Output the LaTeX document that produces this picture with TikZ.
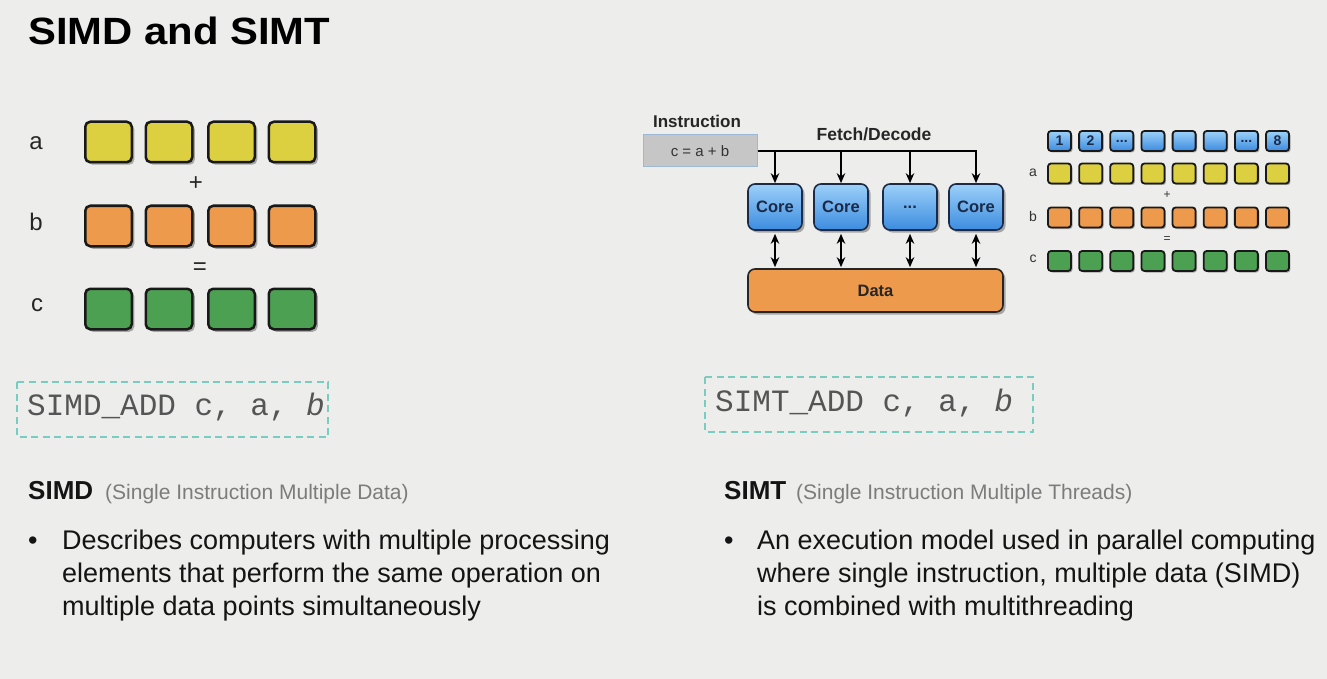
\documentclass[tikz,border=0pt]{standalone}
\usepackage{fontspec}
\setmainfont{Liberation Sans}
\newfontfamily\titlefont{Liberation Sans}[FakeStretch=1.1]
\newfontfamily\monofont{Liberation Mono}
\usetikzlibrary{arrows.meta,shadows}
\definecolor{bgc}{HTML}{EDEDEB}
\definecolor{sqyellow}{HTML}{DCD040}
\definecolor{sqorange}{HTML}{EE9A4C}
\definecolor{sqgreen}{HTML}{4CA052}
\definecolor{bluetop}{HTML}{9CD0F8}
\definecolor{bluebot}{HTML}{3C8CE0}
\definecolor{navy}{HTML}{1B2A48}
\definecolor{dashc}{HTML}{78CCC0}
\definecolor{subgray}{HTML}{7C7C7C}
\definecolor{monogray}{HTML}{555555}
\definecolor{instrfill}{HTML}{C6C6C6}
\definecolor{instrdraw}{HTML}{9CB8D4}
\tikzset{
  shad/.style={drop shadow={shadow xshift=2.5pt,shadow yshift=-2.5pt,opacity=0.3,fill=black}},
  sshad/.style={drop shadow={shadow xshift=1.5pt,shadow yshift=-1.5pt,opacity=0.3,fill=black}},
  bigsq/.style={rounded corners=5pt,line width=2.5pt,draw=black!90,minimum width=46.5pt,minimum height=40.5pt,inner sep=0pt,shad},
  smallsq/.style={rounded corners=3pt,line width=1.8pt,draw=black!90,minimum width=23pt,minimum height=20pt,inner sep=0pt,sshad},
  ysq/.style={bigsq,fill=sqyellow},
  osq/.style={bigsq,fill=sqorange},
  gsq/.style={bigsq,fill=sqgreen},
  ysm/.style={smallsq,fill=sqyellow},
  osm/.style={smallsq,fill=sqorange},
  gsm/.style={smallsq,fill=sqgreen},
  bsm/.style={smallsq,top color=bluetop,bottom color=bluebot,text=navy,font=\bfseries\fontsize{14}{14}\selectfont},
  corebox/.style={rounded corners=7pt,line width=1.6pt,draw=navy,minimum width=54pt,minimum height=46pt,inner sep=0pt,top color=bluetop,bottom color=bluebot,text=navy,font=\bfseries\fontsize{16.5}{16.5}\selectfont,shad},
  databox/.style={rounded corners=7pt,line width=1.6pt,draw=black!85,minimum width=255pt,minimum height=43pt,inner sep=0pt,fill=sqorange,text=black!85,font=\bfseries\fontsize{16.5}{16.5}\selectfont,shad},
  arr/.style={line width=2pt,-{Stealth[length=10pt,width=8.5pt]}},
  darr/.style={line width=2pt,{Stealth[length=10pt,width=8.5pt]}-{Stealth[length=10pt,width=8.5pt]}},
  dashbox/.style={draw=dashc,line width=1.6pt,dash pattern=on 7pt off 4.5pt},
  lbl/.style={inner sep=0pt,font=\fontsize{24}{24}\selectfont,text=black!85},
  slbl/.style={inner sep=0pt,font=\fontsize{14}{14}\selectfont,text=black!80},
  body/.style={inner sep=0pt,anchor=base west,font=\fontsize{27}{33}\selectfont,text=black!92},
  head/.style={inner sep=0pt,anchor=base west,font=\bfseries\fontsize{26}{26}\selectfont,text=black!92},
  subh/.style={inner sep=0pt,anchor=base west,font=\fontsize{21}{21}\selectfont,text=subgray},
  code/.style={inner sep=0pt,anchor=base west,font=\monofont\fontsize{31}{31}\selectfont,text=monogray}
}
\begin{document}
\begin{tikzpicture}[x=1pt,y=-1pt]
\fill[bgc] (0,0) rectangle (1327,679);
\useasboundingbox (0,0) rectangle (1327,679);

% title
\node[inner sep=0pt,anchor=base west,font=\titlefont\bfseries\fontsize{38}{38}\selectfont] (title) at (28,45) {SIMD and SIMT};

% ---------- SIMD squares ----------
\foreach \i/\x in {1/108.5,2/169,3/231.5,4/292}{
  \node[ysq] (la\i) at (\x,142) {};
  \node[osq] (lb\i) at (\x,226) {};
  \node[gsq] (lc\i) at (\x,309) {};
}
\node[lbl] (labela) at (36,143) {a};
\node[lbl] (labelb) at (36,222) {b};
\node[lbl] (labelc) at (37,305) {c};
\node[lbl] (lplus) at (196,184) {+};
\node[lbl] (leq) at (200,269) {=};

% SIMD code box
\draw[dashbox] (17,382) rectangle (328,437);
\node[code] (simdcode) at (27,415) {SIMD\_ADD c, a, {\itshape b}};

% ---------- SIMT diagram ----------
\node[draw=instrdraw,line width=1pt,fill=instrfill,minimum width=114pt,minimum height=32pt,inner sep=0pt,
      font=\fontsize{15}{15}\selectfont,text=black!80] (instr) at (700,151) {c = a + b};
\node[inner sep=0pt,font=\bfseries\fontsize{17}{17}\selectfont,text=black!85] (instrlbl) at (697,121) {Instruction};
\node[inner sep=0pt,font=\bfseries\fontsize{17.5}{17.5}\selectfont,text=black!85] (fetch) at (874,134) {Fetch/Decode};

\node[corebox] (core1) at (775,207) {Core};
\node[corebox] (core2) at (841,207) {Core};
\node[corebox] (core3) at (910,207) {...};
\node[corebox] (core4) at (976,207) {Core};
\node[databox] (data) at (875.5,290.5) {Data};

\draw[line width=2pt] (instr.east) -- ([xshift=1pt]instr.east -| core4.north);
\foreach \i in {1,...,4}{
  \draw[arr] (instr.east -| core\i.north) -- (core\i.north);
  \draw[darr] ([yshift=-3pt]core\i.south) -- ([yshift=1pt]core\i.south |- data.north);
}

% ---------- small grid ----------
\node[bsm] (t1) at (1059.5,141) {1};
\node[bsm] (t2) at (1090.6,141) {2};
\node[bsm] (t3) at (1121.8,141) {...};
\node[bsm] (t4) at (1152.9,141) {};
\node[bsm] (t5) at (1184.1,141) {};
\node[bsm] (t6) at (1215.2,141) {};
\node[bsm] (t7) at (1246.4,141) {...};
\node[bsm] (t8) at (1277.5,141) {8};
\foreach \i in {1,...,8}{
  \pgfmathsetmacro\xx{1059.5+31.14*(\i-1)}
  \node[ysm] (ra\i) at (\xx,173.5) {};
  \node[osm] (rb\i) at (\xx,217.5) {};
  \node[gsm] (rc\i) at (\xx,261) {};
}
\node[slbl] (rlabela) at (1033,173) {a};
\node[slbl] (rlabelb) at (1033,216) {b};
\node[slbl] (rlabelc) at (1033,259) {c};
\node[inner sep=0pt,font=\fontsize{12}{12}\selectfont,text=black!80] (rplus) at (1167,195) {+};
\node[inner sep=0pt,font=\fontsize{12}{12}\selectfont,text=black!80] (req) at (1167,240) {=};

% SIMT code box
\draw[dashbox] (705,377) rectangle (1033,432);
\node[code] (simtcode) at (715,411) {SIMT\_ADD c, a, {\itshape b}};

% ---------- text ----------
\node[head] (simdh) at (28,499) {SIMD};
\node[subh] (simdsub) at (105,499) {(Single Instruction Multiple Data)};
\node[body] (bul1) at (28,549) {\textbullet};
\node[body] (l1) at (62,549) {Describes computers with multiple processing};
\node[body] (l2) at (62,582) {elements that perform the same operation on};
\node[body] (l3) at (62,615) {multiple data points simultaneously};

\node[head] (simth) at (724,499) {SIMT};
\node[subh] (simtsub) at (796,499) {(Single Instruction Multiple Threads)};
\node[body] (bul2) at (724,549) {\textbullet};
\node[body] (r1) at (757,549) {An execution model used in parallel computing};
\node[body] (r2) at (757,582) {where single instruction, multiple data (SIMD)};
\node[body] (r3) at (757,615) {is combined with multithreading};
\end{tikzpicture}
\end{document}
